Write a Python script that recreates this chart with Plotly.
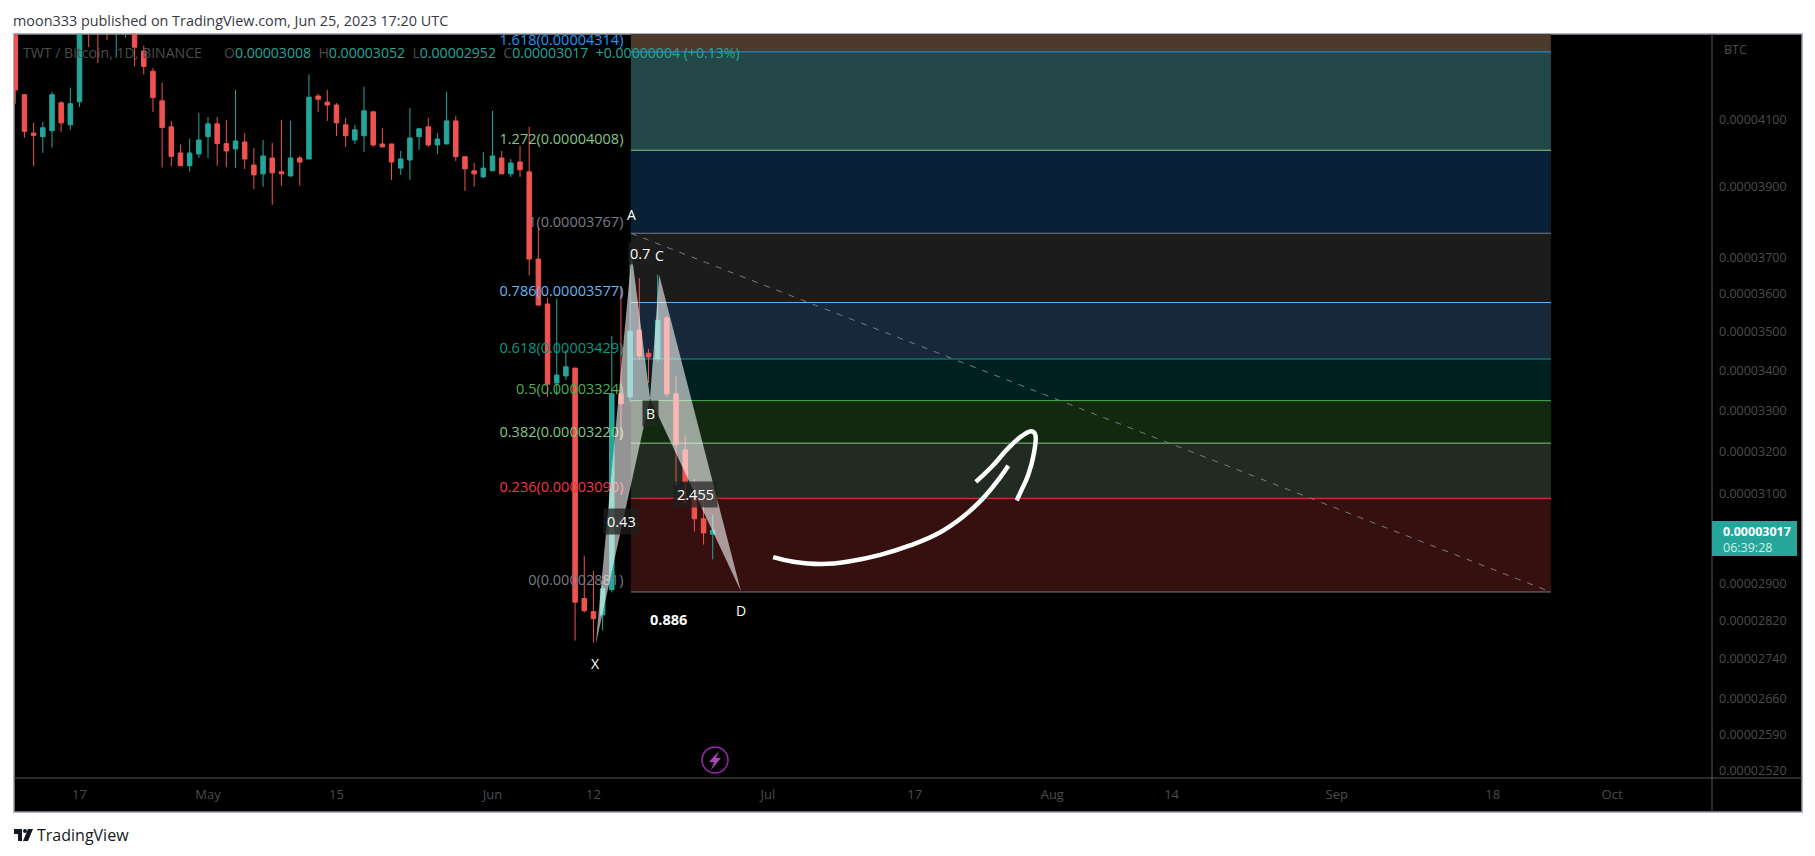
import math
import pandas as pd
import plotly.graph_objects as go

# ---- data (prices in millionths of a BTC) ----
candle_dates = pd.date_range("2023-04-10", periods=77, freq="D")
opens = [44.5, 41.78, 40.60, 40.49, 40.67, 41.53, 40.85, 41.56, 45.5, 45.0, 45.2, 44.0, 44.0, 44.5, 43.17, 42.52, 41.59, 40.79, 40.00, 39.62,
         39.97, 40.49, 40.88, 40.28, 40.12, 40.33, 39.64, 39.38, 39.85, 39.44, 39.32, 39.85, 39.82, 41.74, 41.55, 41.46, 40.85, 40.39, 40.52, 41.25,
         40.27, 40.27, 39.55, 39.79, 40.49, 40.79, 40.24, 40.27, 40.97, 39.89, 39.47, 39.29, 39.47, 39.85, 39.38, 39.73, 39.44, 36.95, 35.73, 33.68,
         33.86, 34.06, 28.67, 28.39, 28.32, 28.86, 33.41, 33.33, 35.04, 34.44, 34.30, 35.36, 33.41, 32.04, 30.91, 30.43, 30.08]
highs = [45.0, 41.80, 40.91, 40.94, 41.87, 41.58, 42.00, 45.0, 46.0, 45.5, 45.5, 45.5, 45.5, 44.8, 43.34, 42.62, 42.15, 40.97, 40.25, 40.43,
         41.22, 41.09, 41.09, 41.00, 41.93, 40.60, 40.15, 40.39, 40.30, 41.00, 40.97, 39.91, 42.42, 41.81, 41.93, 41.52, 41.06, 40.85, 42.03, 41.25,
         40.76, 40.27, 40.06, 41.37, 40.76, 41.06, 40.60, 41.87, 41.12, 39.89, 39.70, 40.03, 41.28, 40.06, 39.82, 40.21, 40.79, 37.84, 35.89, 35.87,
         34.52, 34.06, 29.60, 29.27, 28.95, 34.89, 36.19, 37.03, 36.43, 34.55, 36.52, 35.41, 33.85, 32.39, 31.35, 30.91, 30.52]
lows = [41.50, 40.46, 39.60, 40.00, 40.16, 40.64, 40.70, 41.40, 43.30, 42.78, 43.53, 42.95, 43.60, 42.67, 42.42, 41.25, 39.57, 39.60, 39.62, 39.45,
        39.85, 39.85, 39.62, 39.58, 39.55, 39.52, 38.94, 39.00, 38.48, 39.03, 39.29, 39.03, 39.82, 41.25, 40.97, 40.51, 40.18, 40.27, 40.03, 40.18,
        40.18, 39.20, 39.35, 39.20, 40.09, 40.18, 39.97, 40.27, 39.76, 38.88, 39.00, 39.26, 39.47, 39.38, 39.29, 39.29, 36.50, 35.70, 33.33, 33.38,
        33.76, 27.78, 28.37, 27.74, 27.99, 28.80, 32.28, 33.20, 34.27, 33.68, 34.22, 33.33, 31.19, 30.78, 30.14, 29.85, 29.52]
closes = [41.93, 40.65, 40.53, 40.76, 41.78, 40.91, 41.50, 44.50, 44.00, 44.10, 44.20, 45.00, 45.00, 43.29, 42.67, 41.69, 40.77, 39.90, 39.62, 40.00,
          40.39, 40.88, 40.28, 40.06, 40.36, 39.82, 39.35, 39.91, 39.41, 39.38, 39.85, 39.73, 41.70, 41.64, 41.46, 40.91, 40.52, 40.70, 41.28, 40.24,
          40.18, 39.73, 39.82, 40.45, 40.73, 40.24, 40.42, 40.97, 39.89, 39.53, 39.38, 39.55, 39.91, 39.38, 39.70, 39.50, 36.95, 35.70, 33.65, 33.88,
          34.09, 28.59, 28.41, 28.24, 28.88, 33.41, 33.16, 35.01, 34.37, 34.34, 35.30, 33.41, 32.16, 31.28, 30.43, 30.11, 30.17]

fib_ratios = ["0", "0.236", "0.382", "0.5", "0.618", "0.786", "1", "1.272", "1.618"]
fib_prices = [28.81, 30.90, 32.20, 33.24, 34.29, 35.77, 37.67, 40.08, 43.14]
fib_label_prices = ["0.00002881", "0.00003090", "0.00003220", "0.00003324", "0.00003429", "0.00003577", "0.00003767", "0.00004008", "0.00004314"]
fib_line_colors = ["#787b86", "#f23645", "#81c784", "#4caf50", "#089981", "#64b5f6", "#787b86", "#81c784", "#2196f3"]
fib_band_colors = ["#36100e", "#212b21", "#12280f", "#00211f", "#16283a", "#1c1c1c", "#082137", "#24474a", "#4c3a2a"]
fib_top_price = 46.0
fib_start = "2023-06-16 02:00"
fib_end = "2023-09-24 08:00"

pattern_names = ["X", "A", "B", "C", "D"]
pattern_dates = ["2023-06-12 06:00", "2023-06-16 04:00", "2023-06-18 04:00", "2023-06-19 04:00", "2023-06-28 02:00"]
pattern_prices = [27.70, 37.09, 33.30, 36.51, 28.82]

arrow_body_dates = ["2023-07-01 14:00", "2023-07-03 19:00", "2023-07-06 21:00", "2023-07-09 23:00", "2023-07-13 06:00", "2023-07-16 12:00",
                    "2023-07-19 18:00", "2023-07-22 07:00", "2023-07-24 12:00", "2023-07-26 03:00", "2023-07-27 05:00"]
arrow_body_prices = [29.57, 29.47, 29.42, 29.48, 29.62, 29.83, 30.12, 30.48, 30.91, 31.33, 31.66]
arrow_head_dates = ["2023-07-23 16:00", "2023-07-25 09:00", "2023-07-27 05:00", "2023-07-28 16:00", "2023-07-29 18:00", "2023-07-30 03:00",
                    "2023-07-30 00:00", "2023-07-29 09:00", "2023-07-28 16:00", "2023-07-28 03:00"]
arrow_head_prices = [31.28, 31.63, 32.08, 32.37, 32.49, 32.42, 31.96, 31.44, 31.10, 30.85]

y_ticks = [41, 39, 37, 36, 35, 34, 33, 32, 31, 29, 28.2, 27.4, 26.6, 25.9, 25.2]
y_tick_labels = ["0.00004100", "0.00003900", "0.00003700", "0.00003600", "0.00003500", "0.00003400", "0.00003300", "0.00003200",
                 "0.00003100", "0.00002900", "0.00002820", "0.00002740", "0.00002660", "0.00002590", "0.00002520"]
x_ticks = ["2023-04-17", "2023-05-01", "2023-05-15", "2023-06-01", "2023-06-12", "2023-07-01", "2023-07-17", "2023-08-01", "2023-08-14",
           "2023-09-01", "2023-09-18", "2023-10-01"]
x_tick_labels = ["17", "May", "15", "Jun", "12", "Jul", "17", "Aug", "14", "Sep", "18", "Oct"]

# ---- layout geometry ----
W, H = 1815, 856
L, R, T, B = 14, 1712, 34, 778
FONT = "Open Sans"
DIM = "#4c4c4c"
UNIT = 1e-6


def px(x):
    return (x - L) / (R - L)


def py(y):
    return 1 - (y - T) / (B - T)


def scale(values):
    return [v * UNIT for v in values]


fig = go.Figure()
fig.add_trace(go.Candlestick(
    x=candle_dates, open=scale(opens), high=scale(highs), low=scale(lows), close=scale(closes),
    increasing=dict(line=dict(color="#26a69a", width=1), fillcolor="#26a69a"),
    decreasing=dict(line=dict(color="#ef5350", width=1), fillcolor="#ef5350"),
    whiskerwidth=0, hoverinfo="skip", showlegend=False,
))

# fib labels (the invisible marker lifts each label clear of its level line)
fig.add_trace(go.Scatter(
    x=["2023-06-15 14:00"] * len(fib_ratios), y=scale(fib_prices), mode="markers+text",
    marker=dict(size=3, opacity=0),
    text=[f"{r}({p})" for r, p in zip(fib_ratios, fib_label_prices)],
    textposition="top left",
    textfont=dict(family=FONT, size=14.5, color=fib_line_colors),
    hoverinfo="skip", showlegend=False,
))

# fib trend line
fig.add_trace(go.Scatter(
    x=[fib_start, fib_end], y=scale([fib_prices[6], fib_prices[0]]), mode="lines",
    line=dict(color="#787b86", width=1, dash="6px,7px"), hoverinfo="skip", showlegend=False,
))

# harmonic pattern triangles
for idx in ([0, 1, 2, 0], [2, 3, 4, 2]):
    fig.add_trace(go.Scatter(
        x=[pattern_dates[i] for i in idx], y=scale([pattern_prices[i] for i in idx]),
        mode="lines", fill="toself", fillcolor="rgba(255,255,255,0.58)",
        line=dict(width=0), hoverinfo="skip", showlegend=False,
    ))

# hand-drawn arrow
for xs, ys in ((arrow_body_dates, arrow_body_prices), (arrow_head_dates, arrow_head_prices)):
    fig.add_trace(go.Scatter(
        x=xs, y=scale(ys), mode="lines",
        line=dict(color="white", width=4.5, shape="spline", smoothing=1.3),
        hoverinfo="skip", showlegend=False,
    ))

shapes = [
    dict(type="rect", xref="paper", yref="paper", x0=px(14), x1=px(1802), y0=py(34), y1=py(812),
         fillcolor="black", line=dict(color="#9598a1", width=1.5), layer="below"),
]
band_tops = fib_prices[1:] + [fib_top_price]
for low, top, fill in zip(fib_prices, band_tops, fib_band_colors):
    shapes.append(dict(type="rect", xref="x", yref="y", x0=fib_start, x1=fib_end, y0=low * UNIT, y1=top * UNIT,
                       fillcolor=fill, line=dict(width=0), layer="below"))
for price, color in zip(fib_prices, fib_line_colors):
    shapes.append(dict(type="line", xref="x", yref="y", x0=fib_start, x1=fib_end, y0=price * UNIT, y1=price * UNIT,
                       line=dict(color=color, width=1), layer="below"))
shapes += [
    dict(type="line", xref="paper", yref="paper", x0=px(1712), x1=px(1712), y0=py(34), y1=py(812), line=dict(color="#555555", width=1)),
    dict(type="line", xref="paper", yref="paper", x0=px(14), x1=px(1802), y0=py(778), y1=py(778), line=dict(color="#555555", width=1)),
    dict(type="rect", xref="paper", yref="paper", x0=px(1712), x1=px(1797), y0=py(521), y1=py(556),
         fillcolor="#26a69a", line=dict(width=0)),
    dict(type="circle", xref="paper", yref="paper", x0=px(702), x1=px(728), y0=py(747), y1=py(773),
         fillcolor="black", line=dict(color="#9c27b0", width=1.5)),
]


def poly(points):
    return "M " + " L ".join(f"{px(a):.5f},{py(b):.5f}" for a, b in points) + " Z"


for pts, color in (([(14, 829), (22, 829), (22, 841), (18, 841), (18, 834), (14, 834)], "#131722"),
                   ([(28, 829), (33, 829), (28, 841), (23, 841)], "#131722"),
                   ([(719, 751), (709, 762), (714, 762), (711, 770), (721, 758), (716, 758)], "#ab47bc")):
    shapes.append(dict(type="path", xref="paper", yref="paper", path=poly(pts), fillcolor=color, line=dict(width=0)))
shapes.append(dict(type="circle", xref="paper", yref="paper", x0=px(23), x1=px(27), y0=py(829), y1=py(833),
                   fillcolor="#131722", line=dict(width=0)))


def note(text, x, y, size=14.5, color="white", anchor="left", bg=None, pad=1, family=FONT):
    return dict(text=text, xref="paper", yref="paper", x=px(x), y=py(y), showarrow=False, xanchor=anchor, yanchor="middle",
                font=dict(family=family, size=size, color=color), bgcolor=bg, borderpad=pad)


def pattern_note(i, shift):
    return dict(text=pattern_names[i], xref="x", yref="y", x=pattern_dates[i], y=math.log10(pattern_prices[i] * UNIT),
                showarrow=False, yshift=shift, font=dict(family=FONT, size=14, color="white"), xanchor="center", yanchor="middle")


teal = "#26a69a"
gap = "\u00a0\u00a0"
ohlc = (f'<span style="color:{DIM}">TWT / Bitcoin, 1D, BINANCE{gap}{gap}{gap}O</span><span style="color:{teal}">0.00003008</span>'
        f'<span style="color:{DIM}">{gap}H</span><span style="color:{teal}">0.00003052</span>'
        f'<span style="color:{DIM}">{gap}L</span><span style="color:{teal}">0.00002952</span>'
        f'<span style="color:{DIM}">{gap}C</span><span style="color:{teal}">0.00003017{gap}+0.00000004 (+0.13%)</span>')
annotations = [
    note("moon333 published on TradingView.com, Jun 25, 2023 17:20 UTC", 11, 20, size=14.4, color="#363a45"),
    note(ohlc, 21, 53, size=14.1),
    note("BTC", 1722, 50, size=12.5, color=DIM),
    note("<b>0.00003017</b>", 1721, 531, size=12.5, color="white"),
    note("06:39:28", 1721, 547, size=12.5, color="#d5eeeb"),
    note("TradingView", 35, 835, size=16, color="#131722"),
    pattern_note(0, -19), pattern_note(1, 40), pattern_note(3, 20), pattern_note(4, -19),
    dict(pattern_note(2, -15), bgcolor="rgba(30,40,30,0.85)", borderpad=3),
    note("0.7", 640, 253, anchor="center", bg="rgba(30,30,30,0.8)", pad=1),
    note("0.43", 621, 521, anchor="center", bg="rgba(30,30,30,0.75)", pad=3),
    note("2.455", 695, 494, anchor="center", bg="rgba(30,30,30,0.7)", pad=3),
    note("<b>0.886</b>", 668, 619, anchor="center"),
]

fig.update_layout(
    width=W, height=H, autosize=False,
    margin=dict(l=L, r=W - R, t=T, b=H - B, pad=0),
    paper_bgcolor="white", plot_bgcolor="black",
    font=dict(family=FONT), showlegend=False,
    shapes=shapes, annotations=annotations,
    xaxis=dict(
        type="date", range=["2023-04-09 20:38", "2023-10-11 21:20"],
        rangeslider=dict(visible=False), showgrid=False, zeroline=False, showline=False,
        tickmode="array", tickvals=x_ticks, ticktext=x_tick_labels, ticks="",
        tickfont=dict(family=FONT, size=13, color=DIM), ticklabelstandoff=7,
    ),
    yaxis=dict(
        type="log", range=[math.log10(25.07e-6), math.log10(43.72e-6)], side="right",
        showgrid=False, zeroline=False, showline=False,
        tickmode="array", tickvals=scale(y_ticks), ticktext=y_tick_labels, ticks="",
        tickfont=dict(family=FONT, size=12.5, color=DIM), ticklabelstandoff=6,
    ),
)

fig.write_html("out.html", config=dict(displayModeBar=False),
               post_script="document.body.style.margin='0';document.body.style.overflow='hidden';")
